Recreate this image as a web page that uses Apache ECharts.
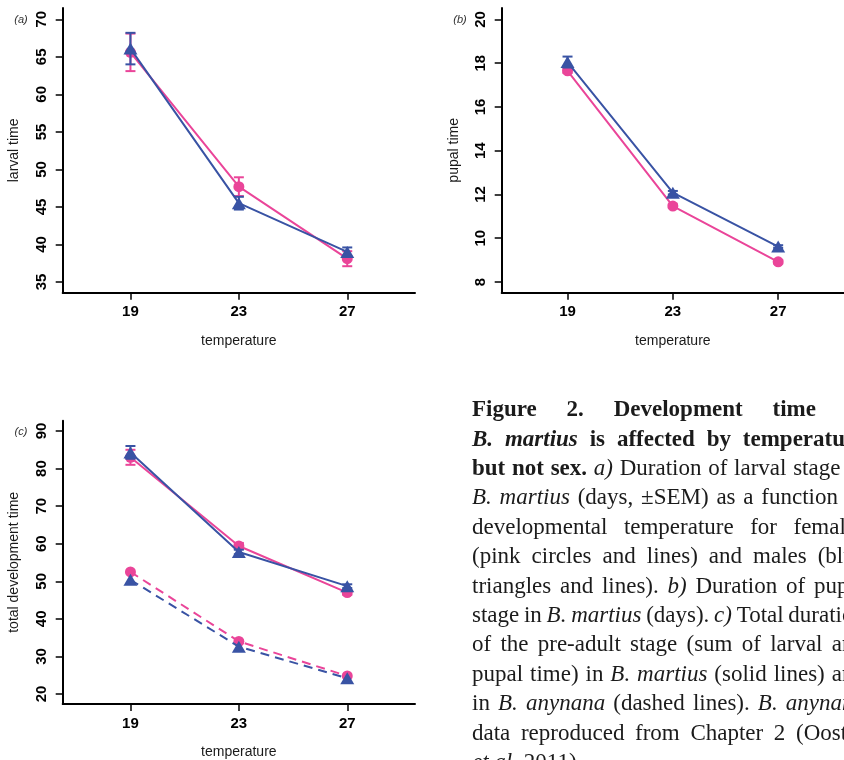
<!DOCTYPE html>
<html>
<head>
<meta charset="utf-8">
<script src="https://cdn.jsdelivr.net/npm/echarts@6/dist/echarts.min.js"></script>
<style>
  html, body { margin: 0; padding: 0; width: 844px; height: 760px; overflow: hidden; background: #fff; }
  #chart { position: absolute; left: 0; top: 0; width: 844px; height: 760px; }
  #caption {
    position: absolute; left: 472px; top: 394.2px; width: 393px;
    font-family: "Liberation Serif", "DejaVu Serif", serif;
    font-size: 23px; line-height: 29.4px; color: #1b1b1b;
  }
  #caption .ln { display: flex; justify-content: space-between; flex-wrap: nowrap; white-space: nowrap; }
  #caption .ln.last { justify-content: flex-start; gap: 0.25em; }
</style>
</head>
<body>
<div id="chart"></div>
<div id="caption"></div>
<script>
// Developmental temperatures (°C)
const temps = [19, 23, 27];

// (a) larval time, days (mean, SEM)
const larvalFemale = [65.6, 47.7, 38.1];
const larvalFemaleSem = [2.5, 1.25, 1.0];
const larvalMale = [66.1, 45.5, 39.0];
const larvalMaleSem = [2.1, 0.85, 0.6];

// (b) pupal time, days (mean, SEM)
const pupalFemale = [17.65, 11.47, 8.92];
const pupalFemaleSem = [0.1, 0.08, 0.08];
const pupalMale = [18.05, 12.08, 9.62];
const pupalMaleSem = [0.25, 0.08, 0.06];

// (c) total development time, B. martius (solid) and B. anynana (dashed)
const totalFemale = [83.0, 59.4, 47.0];
const totalFemaleSem = [2.0, 0.8, 0.6];
const totalMale = [84.3, 57.8, 48.7];
const totalMaleSem = [1.7, 0.6, 0.5];
const anynanaFemale = [52.5, 34.0, 24.8];
const anynanaMale = [50.4, 32.6, 24.2];

// Tick labels
const xTicks = [19, 23, 27];
const yTicksA = [35, 40, 45, 50, 55, 60, 65, 70];
const yTicksB = [8, 10, 12, 14, 16, 18, 20];
const yTicksC = [20, 30, 40, 50, 60, 70, 80, 90];

const PINK = '#EA4599';
const BLUE = '#3953A4';
const SANS = '"Liberation Sans", Arial, Helvetica, sans-serif';

const chart = echarts.init(document.getElementById('chart'), null, { renderer: 'canvas' });

function pairs(ys) { return temps.map((t, i) => [t, ys[i]]); }
function bars(ys, sem) { return temps.map((t, i) => [t, ys[i] - sem[i], ys[i] + sem[i]]); }

// Vertical ±SEM bar with flat caps
function errRenderer(color) {
  return function (params, api) {
    const x = api.value(0);
    const pLo = api.coord([x, api.value(1)]);
    const pHi = api.coord([x, api.value(2)]);
    const hw = 5;
    const style = { stroke: color, lineWidth: 2, fill: null };
    return {
      type: 'group',
      children: [
        { type: 'line', shape: { x1: pLo[0], y1: pLo[1], x2: pHi[0], y2: pHi[1] }, style },
        { type: 'line', shape: { x1: pLo[0] - hw, y1: pLo[1], x2: pLo[0] + hw, y2: pLo[1] }, style },
        { type: 'line', shape: { x1: pHi[0] - hw, y1: pHi[1], x2: pHi[0] + hw, y2: pHi[1] }, style }
      ]
    };
  };
}

function xAxisCfg(gridIndex, min, max, gap) {
  return {
    type: 'value', gridIndex, min, max,
    name: 'temperature', nameLocation: 'middle', nameGap: gap,
    nameTextStyle: { fontFamily: SANS, fontSize: 14, color: '#1a1a1a' },
    axisLine: { show: true, onZero: false, lineStyle: { color: '#000', width: 2 } },
    axisTick: { show: true, length: 7, customValues: xTicks, lineStyle: { color: '#000', width: 1.5 } },
    axisLabel: { customValues: xTicks, fontFamily: SANS, fontSize: 15, fontWeight: 'bold', color: '#000', margin: 12 },
    splitLine: { show: false }
  };
}

function yAxisCfg(gridIndex, min, max, ticks, name, gap) {
  return {
    type: 'value', gridIndex, min, max,
    name, nameLocation: 'middle', nameGap: gap, nameRotate: 90,
    nameTextStyle: { fontFamily: SANS, fontSize: 14, color: '#1a1a1a' },
    axisLine: { show: true, onZero: false, lineStyle: { color: '#000', width: 2 } },
    axisTick: { show: true, length: 7, customValues: ticks, lineStyle: { color: '#000', width: 1.5 } },
    axisLabel: { rotate: 90, customValues: ticks, fontFamily: SANS, fontSize: 15, fontWeight: 'bold', color: '#000', margin: 13 },
    splitLine: { show: false }
  };
}

function errSeries(idx, data, color, z) {
  return {
    type: 'custom', xAxisIndex: idx, yAxisIndex: idx, z,
    renderItem: errRenderer(color), encode: { x: 0, y: [1, 2] },
    data, silent: true
  };
}

function lineSeries(idx, data, color, symbol, size, z, dashed) {
  return {
    type: 'line', xAxisIndex: idx, yAxisIndex: idx, z,
    data, symbol, symbolSize: size, showSymbol: true,
    itemStyle: { color, borderWidth: 0 },
    lineStyle: { color, width: 2, type: dashed ? [9, 6] : 'solid' },
    animation: false, silent: true
  };
}

const CIRCLE = 11;
const TRI = [14, 12];

const option = {
  animation: false,
  grid: [
    { left: 62.7, top: 8, width: 352.3, height: 284.7 },
    { left: 501.7, top: 8, width: 352.3, height: 284.7 },
    { left: 62.7, top: 420.7, width: 352.3, height: 283.3 }
  ],
  xAxis: [
    xAxisCfg(0, 16.5, 29.5, 41),
    xAxisCfg(1, 16.5, 29.5, 41),
    xAxisCfg(2, 16.5, 29.5, 41)
  ],
  yAxis: [
    yAxisCfg(0, 33.57, 71.51, yTicksA, 'larval time', 42),
    yAxisCfg(1, 7.51, 20.52, yTicksB, 'pupal time', 41),
    yAxisCfg(2, 17.34, 92.74, yTicksC, 'total development time', 42)
  ],
  graphic: [
    { type: 'text', x: 21, y: 20, style: { text: '(a)', font: 'italic 11px ' + SANS, fill: '#333', textAlign: 'center', textVerticalAlign: 'middle' } },
    { type: 'text', x: 460, y: 20, style: { text: '(b)', font: 'italic 11px ' + SANS, fill: '#333', textAlign: 'center', textVerticalAlign: 'middle' } },
    { type: 'text', x: 21, y: 432, style: { text: '(c)', font: 'italic 11px ' + SANS, fill: '#333', textAlign: 'center', textVerticalAlign: 'middle' } }
  ],
  series: [
    // (a) larval time
    errSeries(0, bars(larvalFemale, larvalFemaleSem), PINK, 2),
    lineSeries(0, pairs(larvalFemale), PINK, 'circle', CIRCLE, 2),
    errSeries(0, bars(larvalMale, larvalMaleSem), BLUE, 3),
    lineSeries(0, pairs(larvalMale), BLUE, 'triangle', TRI, 3),
    // (b) pupal time
    errSeries(1, bars(pupalFemale, pupalFemaleSem), PINK, 2),
    lineSeries(1, pairs(pupalFemale), PINK, 'circle', CIRCLE, 2),
    errSeries(1, bars(pupalMale, pupalMaleSem), BLUE, 3),
    lineSeries(1, pairs(pupalMale), BLUE, 'triangle', TRI, 3),
    // (c) total development time
    lineSeries(2, pairs(anynanaFemale), PINK, 'circle', CIRCLE, 2, true),
    lineSeries(2, pairs(anynanaMale), BLUE, 'triangle', TRI, 3, true),
    errSeries(2, bars(totalFemale, totalFemaleSem), PINK, 2),
    lineSeries(2, pairs(totalFemale), PINK, 'circle', CIRCLE, 2),
    errSeries(2, bars(totalMale, totalMaleSem), BLUE, 3),
    lineSeries(2, pairs(totalMale), BLUE, 'triangle', TRI, 3)
  ]
};
chart.setOption(option);

// Figure caption, one justified line per row
const captionLines = [
  [['Figure 2. Development time in', 'b']],
  [['B. martius', 'bi'], ['is affected by temperature', 'b']],
  [['but not sex.', 'b'], ['a)', 'i'], ['Duration of larval stage in', '']],
  [['B. martius', 'i'], ['(days, ±SEM) as a function of', '']],
  [['developmental temperature for females', '']],
  [['(pink circles and lines) and males (blue', '']],
  [['triangles and lines).', ''], ['b)', 'i'], ['Duration of pupal', '']],
  [['stage in', ''], ['B. martius', 'i'], ['(days).', ''], ['c)', 'i'], ['Total duration', '']],
  [['of the pre-adult stage (sum of larval and', '']],
  [['pupal time) in', ''], ['B. martius', 'i'], ['(solid lines) and', '']],
  [['in', ''], ['B. anynana', 'i'], ['(dashed lines).', ''], ['B. anynana', 'i']],
  [['data reproduced from Chapter 2 (Oostra', '']],
  [['et al.', 'i'], ['2011).', '']]
];
const cap = document.getElementById('caption');
captionLines.forEach((segs, li) => {
  const row = document.createElement('div');
  row.className = 'ln' + (li === captionLines.length - 1 ? ' last' : '');
  segs.forEach(([txt, st]) => {
    txt.split(' ').forEach(w => {
      const s = document.createElement('span');
      s.textContent = w;
      if (st.includes('b')) s.style.fontWeight = 'bold';
      if (st.includes('i')) s.style.fontStyle = 'italic';
      row.appendChild(s);
    });
  });
  cap.appendChild(row);
});
</script>
</body>
</html>
